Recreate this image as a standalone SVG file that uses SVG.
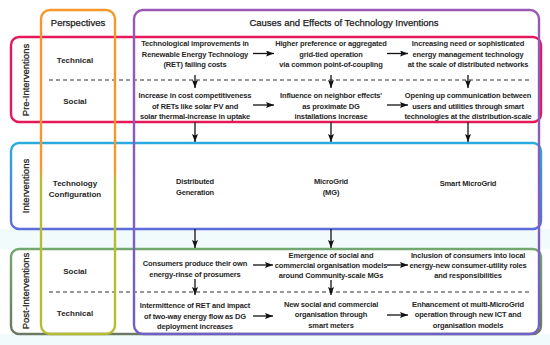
<svg xmlns="http://www.w3.org/2000/svg" width="550" height="345" viewBox="0 0 550 345">
  <defs>
    <linearGradient id="gPersp" gradientUnits="userSpaceOnUse" x1="0" y1="10" x2="0" y2="334">
      <stop offset="0" stop-color="#f5982c"/>
      <stop offset="0.49" stop-color="#f5982c"/>
      <stop offset="0.53" stop-color="#b6bd33"/>
      <stop offset="1" stop-color="#b6bd33"/>
    </linearGradient>
    <linearGradient id="gCauses" gradientUnits="userSpaceOnUse" x1="0" y1="10" x2="0" y2="334">
      <stop offset="0" stop-color="#9a58b6"/>
      <stop offset="1" stop-color="#7060c6"/>
    </linearGradient>
    <linearGradient id="gInt" gradientUnits="userSpaceOnUse" x1="0" y1="143" x2="0" y2="229">
      <stop offset="0" stop-color="#2aabe0"/>
      <stop offset="1" stop-color="#5c6cdb"/>
    </linearGradient>
    <linearGradient id="gPost" gradientUnits="userSpaceOnUse" x1="0" y1="249" x2="0" y2="334">
      <stop offset="0" stop-color="#72a86f"/>
      <stop offset="1" stop-color="#6b7864"/>
    </linearGradient>
    <marker id="ah" markerUnits="userSpaceOnUse" markerWidth="9" markerHeight="6" refX="8" refY="3" orient="auto">
      <path d="M0,0 L8,3 L0,6 L1.5,3 z" fill="#111"/>
    </marker>
    <style>
      .box { fill: none; stroke-width: 2.4; }
      .dash { stroke: #333; stroke-width: 1; stroke-dasharray: 4 3; fill: none; }
      .t { font-family: "Liberation Sans", Arial, sans-serif; font-size: 7.5px; font-weight: bold; fill: #262626; text-anchor: middle; letter-spacing: -0.15px; }
      .lbl { font-family: "Liberation Sans", Arial, sans-serif; font-size: 8px; font-weight: bold; fill: #262626; text-anchor: middle; }
      .hd { font-family: "Liberation Sans", Arial, sans-serif; font-size: 9.5px; fill: #1a1a1a; stroke: #1a1a1a; stroke-width: 0.25px; text-anchor: middle; }
      .conn line { stroke: #111; stroke-width: 1.3; marker-end: url(#ah); }
    </style>
  </defs>

  <rect x="0" y="0" width="550" height="345" fill="#ffffff"/>
  <rect x="0" y="229" width="550" height="20" fill="#f2fbfc"/>
  <rect x="0" y="334" width="550" height="11" fill="#f2fbfc"/>

  <g id="pre-interventions">
    <rect class="box" x="11" y="37" width="530" height="85" rx="8" stroke="#e5185a"/>
    <line class="dash" x1="49" y1="80" x2="530" y2="80"/>
    <text class="hd" transform="translate(28.5,80) rotate(-90)">Pre-Interventions</text>
  </g>
  <g id="interventions">
    <rect class="box" x="11" y="143" width="530" height="86" rx="8" stroke="url(#gInt)"/>
    <text class="hd" transform="translate(28.5,186) rotate(-90)">Interventions</text>
  </g>
  <g id="post-interventions">
    <rect class="box" x="11" y="249" width="530" height="85" rx="8" stroke="url(#gPost)"/>
    <line class="dash" x1="49" y1="292" x2="530" y2="292"/>
    <text class="hd" transform="translate(28.5,291) rotate(-90)">Post-Interventions</text>
  </g>

  <g id="perspectives">
    <rect class="box" x="41" y="10" width="74" height="324" rx="9" stroke="url(#gPersp)"/>
    <text class="hd" x="78" y="26">Perspectives</text>
    <text class="lbl" x="75" y="63">Technical</text>
    <text class="lbl" x="75" y="104">Social</text>
    <text class="lbl" x="75" y="186">Technology</text>
    <text class="lbl" x="75" y="196.5">Configuration</text>
    <text class="lbl" x="75" y="274">Social</text>
    <text class="lbl" x="75" y="316">Technical</text>
  </g>

  <g id="causes-effects">
    <rect class="box" x="134" y="10" width="405" height="324" rx="9" stroke="url(#gCauses)"/>
    <text class="hd" x="344" y="26">Causes and Effects of Technology Inventions</text>
  </g>

  <g id="pre-tech-1">
    <text class="t" x="195" y="46">Technological improvements in</text>
    <text class="t" x="195" y="56.5">Renewable Energy Technology</text>
    <text class="t" x="195" y="67">(RET) failing costs</text>
  </g>
  <g id="pre-tech-2">
    <text class="t" x="331" y="46">Higher preference or aggregated</text>
    <text class="t" x="331" y="56.5">grid-tied operation</text>
    <text class="t" x="331" y="67">via common point-of-coupling</text>
  </g>
  <g id="pre-tech-3">
    <text class="t" x="468" y="46">Increasing need or sophisticated</text>
    <text class="t" x="468" y="56.5">energy management technology</text>
    <text class="t" x="468" y="67">at the scale of distributed networks</text>
  </g>
  <g id="pre-soc-1">
    <text class="t" x="195" y="98">Increase in cost competitiveness</text>
    <text class="t" x="195" y="108.5">of RETs like solar PV and</text>
    <text class="t" x="195" y="119">solar thermal-increase in uptake</text>
  </g>
  <g id="pre-soc-2">
    <text class="t" x="331" y="98">Influence on neighbor effects'</text>
    <text class="t" x="331" y="108.5">as proximate DG</text>
    <text class="t" x="331" y="119">installations increase</text>
  </g>
  <g id="pre-soc-3">
    <text class="t" x="468" y="98">Opening up communication between</text>
    <text class="t" x="468" y="108.5">users and utilities through smart</text>
    <text class="t" x="468" y="119">technologies at the distribution-scale</text>
  </g>

  <g id="int-1">
    <text class="t" x="195" y="184">Distributed</text>
    <text class="t" x="195" y="194.5">Generation</text>
  </g>
  <g id="int-2">
    <text class="t" x="331" y="184">MicroGrid</text>
    <text class="t" x="331" y="195">(MG)</text>
  </g>
  <g id="int-3">
    <text class="t" x="468" y="185.5">Smart MicroGrid</text>
  </g>

  <g id="post-soc-1">
    <text class="t" x="195" y="266">Consumers produce their own</text>
    <text class="t" x="195" y="276.5">energy-rinse of prosumers</text>
  </g>
  <g id="post-soc-2">
    <text class="t" x="331" y="258">Emergence of social and</text>
    <text class="t" x="331" y="268">commercial organisation models</text>
    <text class="t" x="331" y="278">around Community-scale MGs</text>
  </g>
  <g id="post-soc-3">
    <text class="t" x="468" y="258">Inclusion of consumers into local</text>
    <text class="t" x="468" y="268">energy-new consumer-utility roles</text>
    <text class="t" x="468" y="278">and responsibilities</text>
  </g>
  <g id="post-tech-1">
    <text class="t" x="195" y="308">Intermittence of RET and impact</text>
    <text class="t" x="195" y="318.5">of two-way energy flow as DG</text>
    <text class="t" x="195" y="329">deployment increases</text>
  </g>
  <g id="post-tech-2">
    <text class="t" x="331" y="306.5">New social and commercial</text>
    <text class="t" x="331" y="317">organisation through</text>
    <text class="t" x="331" y="327.5">smart meters</text>
  </g>
  <g id="post-tech-3">
    <text class="t" x="468" y="306.5">Enhancement ot multi-MicroGrid</text>
    <text class="t" x="468" y="317">operation through new ICT and</text>
    <text class="t" x="468" y="327.5">organisation models</text>
  </g>

  <g id="connectors" class="conn">
    <line x1="253" y1="53.5" x2="274" y2="53.5"/>
    <line x1="387" y1="53.5" x2="408" y2="53.5"/>
    <line x1="253" y1="105" x2="274" y2="105"/>
    <line x1="387" y1="105" x2="408" y2="105"/>
    <line x1="195" y1="75" x2="195" y2="88"/>
    <line x1="331" y1="75" x2="331" y2="88"/>
    <line x1="468" y1="75" x2="468" y2="88"/>
    <line x1="195" y1="122" x2="195" y2="142"/>
    <line x1="331" y1="122" x2="331" y2="142"/>
    <line x1="468" y1="122" x2="468" y2="142"/>
    <line x1="195" y1="229" x2="195" y2="248"/>
    <line x1="331" y1="229" x2="331" y2="248"/>
    <line x1="253" y1="265" x2="273" y2="265"/>
    <line x1="387" y1="265" x2="408" y2="265"/>
    <line x1="195" y1="279" x2="195" y2="295"/>
    <line x1="331" y1="280" x2="331" y2="295"/>
    <line x1="253" y1="316" x2="273" y2="316"/>
    <line x1="387" y1="315" x2="408" y2="315"/>
  </g>
</svg>
